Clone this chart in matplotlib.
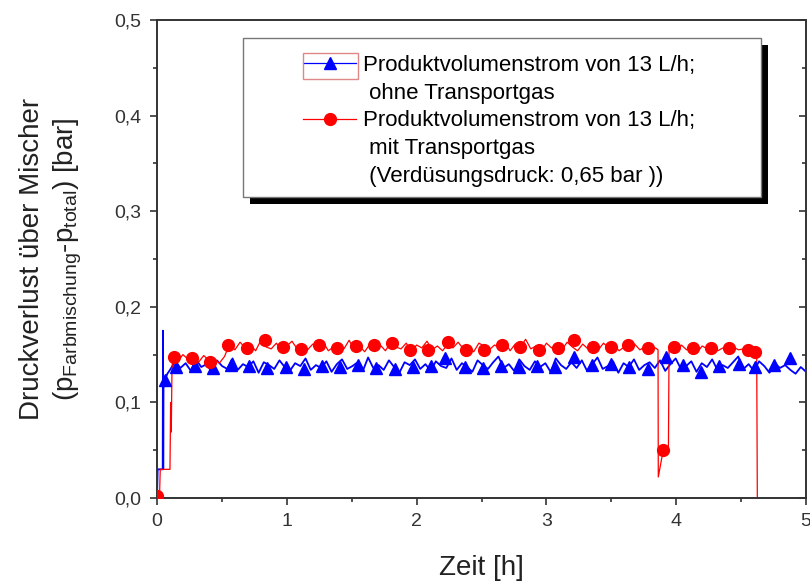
import numpy as np
import matplotlib
matplotlib.use("Agg")
from matplotlib import pyplot as plt
from matplotlib.patches import Rectangle
from matplotlib.lines import Line2D
from matplotlib.ticker import FuncFormatter, MultipleLocator

plt.rcParams["font.family"] = ["Liberation Sans", "DejaVu Sans"]
plt.rcParams["mathtext.fontset"] = "custom"
plt.rcParams["mathtext.rm"] = "Liberation Sans"
plt.rcParams["mathtext.it"] = "Liberation Sans:italic"

# --- ohne Transportgas (blue) ---
blue_start_t = [0.0, 0.005, 0.03, 0.044, 0.046, 0.048, 0.05, 0.06, 0.08]
blue_start_y = [0.0, 0.03, 0.03, 0.03, 0.175, 0.03, 0.115, 0.123, 0.130]
blue_t0, blue_t1 = 0.10, 5.00
blue_vals = [
    .134, .143, .136, .141, .133, .145, .137, .140, .132, .144,
    .138, .135, .146, .134, .140, .137, .143, .131, .142, .139,
    .135, .144, .137, .133, .141, .138, .146, .134, .139, .136,
    .143, .132, .140, .145, .135, .138, .142, .133, .147, .136,
    .139, .134, .144, .137, .131, .142, .139, .145, .135, .140,
    .133, .143, .138, .136, .146, .134, .141, .137, .132, .144,
    .139, .135, .142, .148, .136, .140, .133, .145, .138, .134,
    .143, .137, .141, .132, .146, .139, .135, .142, .136, .144,
    .133, .140, .147, .135, .138, .143, .131, .141, .137, .145,
    .134, .139, .142, .136, .144, .133, .140, .146, .135, .138,
    .143, .132, .141, .137, .145, .134, .139, .136, .142, .148,
    .135, .140, .133, .143, .138, .131, .141, .136, .139, .134,
    .130, .137, .132,
]
blue_mark_t = [0.06, 0.15, 0.29, 0.43, 0.57, 0.71, 0.85, 0.99, 1.13, 1.27,
               1.41, 1.55, 1.69, 1.83, 1.97, 2.11, 2.22, 2.37, 2.51, 2.65,
               2.79, 2.93, 3.07, 3.21, 3.35, 3.50, 3.64, 3.78, 3.92, 4.05,
               4.19, 4.33, 4.48, 4.61, 4.75, 4.88]
blue_mark_y = [0.123, 0.137, 0.138, 0.136, 0.139, 0.138, 0.136, 0.137, 0.135, 0.138,
               0.137, 0.139, 0.136, 0.135, 0.137, 0.138, 0.146, 0.137, 0.136, 0.138,
               0.137, 0.138, 0.137, 0.147, 0.139, 0.140, 0.137, 0.135, 0.148, 0.139,
               0.132, 0.138, 0.140, 0.137, 0.139, 0.146]

# --- mit Transportgas (red) ---
red_start_t = [0.0, 0.02, 0.025, 0.10, 0.105, 0.11, 0.115]
red_start_y = [0.0, 0.005, 0.03, 0.03, 0.10, 0.069, 0.13]
red_a_t0, red_a_t1 = 0.12, 3.84
red_vals_a = [
    .148, .143, .150, .145, .147, .142, .149, .144, .146, .141, .148,
    .161, .155, .163, .157, .160, .154, .165, .158, .156, .162,
    .153, .159, .164, .156, .160, .155, .161, .157, .163, .154,
    .158, .162, .156, .165, .155, .159, .153, .161, .157, .160,
    .154, .163, .158, .156, .162, .153, .160, .157, .164, .155,
    .159, .154, .161, .157, .163, .156, .158, .153, .162, .159,
    .155, .160, .157, .164, .154, .161, .158, .166, .156, .159,
    .153, .162, .157, .160, .155, .163, .158, .154, .161, .156,
    .159, .155, .162, .157, .160, .154, .158, .156, .161, .155,
    .158, .153, .157,
]
red_dip_t = [3.86, 3.862, 3.90, 3.94, 3.945]
red_dip_y = [0.155, 0.022, 0.05, 0.05, 0.157]
red_b_t0, red_b_t1 = 3.96, 4.60
red_vals_b = [.157, .153, .160, .155, .158, .152, .159, .156, .161, .154,
              .157, .153, .158, .155, .156, .152, .154]
red_end_t = [4.62, 4.625]
red_end_y = [0.154, 0.0]
red_mark_t = [0.0, 0.13, 0.27, 0.41, 0.55, 0.69, 0.83, 0.97, 1.11, 1.25,
              1.39, 1.53, 1.67, 1.81, 1.95, 2.09, 2.24, 2.38, 2.52, 2.66,
              2.80, 2.94, 3.09, 3.21, 3.36, 3.50, 3.63, 3.78, 3.90, 3.98,
              4.13, 4.27, 4.41, 4.55, 4.61]
red_mark_y = [0.002, 0.148, 0.146, 0.142, 0.160, 0.157, 0.165, 0.158, 0.156, 0.160,
              0.157, 0.159, 0.160, 0.162, 0.155, 0.155, 0.163, 0.155, 0.155, 0.160,
              0.158, 0.155, 0.157, 0.165, 0.158, 0.158, 0.160, 0.157, 0.050, 0.158,
              0.157, 0.157, 0.157, 0.155, 0.153]

label_blue = ["Produktvolumenstrom von 13 L/h;", " ohne Transportgas"]
label_red = ["Produktvolumenstrom von 13 L/h;", " mit Transportgas",
             " (Verdüsungsdruck: 0,65 bar ))"]

blue_t = np.concatenate([blue_start_t, np.linspace(blue_t0, blue_t1, len(blue_vals))])
blue_y = np.concatenate([blue_start_y, blue_vals])
red_t = np.concatenate([red_start_t, np.linspace(red_a_t0, red_a_t1, len(red_vals_a)),
                        red_dip_t, np.linspace(red_b_t0, red_b_t1, len(red_vals_b)), red_end_t])
red_y = np.concatenate([red_start_y, red_vals_a, red_dip_y, red_vals_b, red_end_y])

W, H = 810, 581
fig = plt.figure(figsize=(W / 100, H / 100), dpi=100)
ax = fig.add_axes([157 / W, 1 - 498 / H, (806 - 157) / W, (498 - 20) / H])

blue = "#0000ff"
red = "#ff0000"
ax.plot(blue_t, blue_y, color=blue, lw=1.3, zorder=2)
ax.plot(blue_mark_t, blue_mark_y, ls="none", marker="^", ms=8, color=blue, zorder=3)
ax.plot(red_t, red_y, color=red, lw=0.9, zorder=2.5)
ax.plot(red_mark_t, red_mark_y, ls="none", marker="o", ms=8.5, color=red, zorder=3.5)

ax.set_xlim(0, 5)
ax.set_ylim(0, 0.5)
ax.xaxis.set_major_locator(MultipleLocator(1))
ax.xaxis.set_minor_locator(MultipleLocator(0.5))
ax.yaxis.set_major_locator(MultipleLocator(0.1))
ax.yaxis.set_minor_locator(MultipleLocator(0.05))
ax.yaxis.set_major_formatter(FuncFormatter(lambda v, p: f"{v:.1f}".replace(".", ",")))
ax.xaxis.set_major_formatter(FuncFormatter(lambda v, p: f"{v:.0f}"))

axc = "#333333"
for s in ax.spines.values():
    s.set_linewidth(1.4)
    s.set_color(axc)
ax.tick_params(which="both", direction="out", color=axc, width=1.2, labelsize=14,
               labelcolor="#333333", right=True, top=False, pad=6)
ax.tick_params(which="major", length=5)
ax.tick_params(which="minor", length=3)
# right side ticks point inward
for t in ax.yaxis.get_major_ticks() + ax.yaxis.get_minor_ticks():
    t.tick2line.set_marker(matplotlib.lines.TICKLEFT)

ax.set_xlabel("Zeit [h]", fontsize=20, color="#222222", labelpad=18)
ax.set_ylabel("Druckverlust über Mischer\n(p$_{\\mathrm{Farbmischung}}$-p$_{\\mathrm{total}}$) [bar]",
              fontsize=20, color="#222222", labelpad=22, linespacing=1.3)

# legend: one row per text line, handle on the first line of each entry
blank = Line2D([], [], ls="none")
h_blue = Line2D([], [], color=blue, lw=0.9, marker="^", ms=8)
h_red = Line2D([], [], color=red, lw=0.9, marker="o", ms=8.5)
handles = [h_blue, blank, h_red, blank, blank]
labels = label_blue + label_red
leg = ax.legend(handles, labels, loc="upper left",
                bbox_to_anchor=(303 / W, 1 - 55 / H), bbox_transform=fig.transFigure,
                frameon=False, fontsize=16, borderpad=0, borderaxespad=0,
                handlelength=2.4, handletextpad=0.3, labelspacing=0.3)
leg.set_zorder(6)

# legend frame with a black drop shadow (drawn manually)
fx0, fy0, fx1, fy1 = 243, 38, 761, 197
off = 7
ax.add_patch(Rectangle(((fx0 + off) / W, 1 - (fy1 + off) / H), (fx1 - fx0) / W, (fy1 - fy0) / H,
                       transform=fig.transFigure, facecolor="black", edgecolor="none",
                       clip_on=False, zorder=4))
ax.add_patch(Rectangle((fx0 / W, 1 - fy1 / H), (fx1 - fx0) / W, (fy1 - fy0) / H,
                       transform=fig.transFigure, facecolor="white", edgecolor="#777777",
                       lw=1.0, clip_on=False, zorder=4.5))
# small selection box around first legend symbol
ax.add_patch(Rectangle((303 / W, 1 - 79 / H), 55 / W, 26 / H, transform=fig.transFigure,
                       facecolor="none", edgecolor="#e08888", lw=1.0, clip_on=False, zorder=7))

fig.savefig("out.png", dpi=100)
